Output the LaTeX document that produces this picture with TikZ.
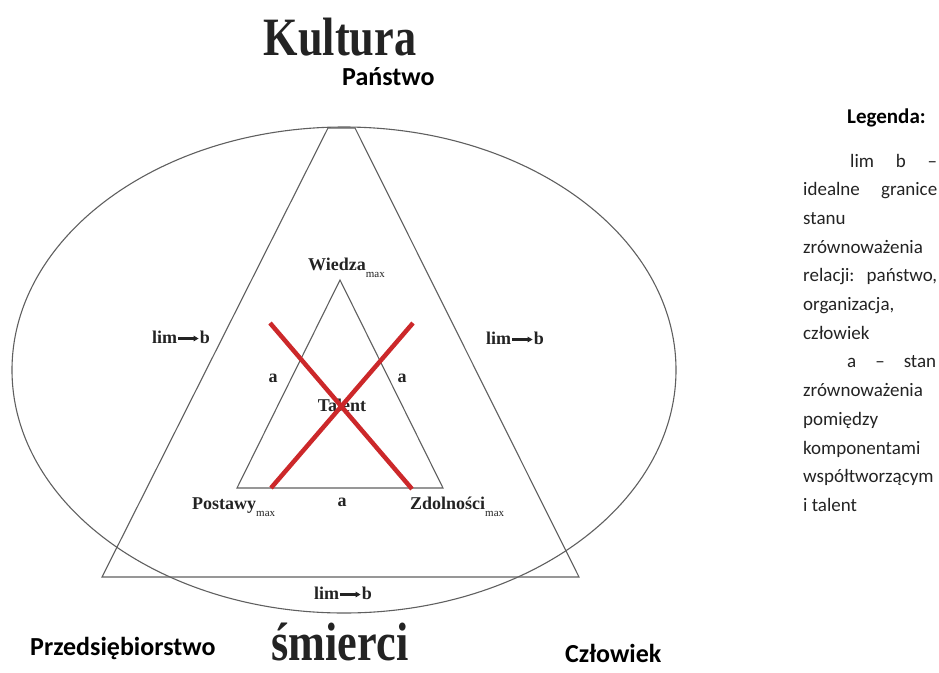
\documentclass[tikz,border=0pt]{standalone}
\usepackage{fontspec}
\usepackage{graphicx}
\setmainfont{Liberation Serif}
\newfontfamily\calfont{Carlito}
\usetikzlibrary{arrows.meta}
\definecolor{crossred}{RGB}{204,40,42}
\definecolor{linegray}{RGB}{95,95,95}
\definecolor{txtdark}{RGB}{35,35,35}
\newcommand{\mxs}{{\fontsize{11}{11}\mdseries\selectfont\raisebox{-7pt}{max}}}
\newcommand{\limb}[3]{%
  \node[ser, anchor=base west] (#1l) at (#2-29,#3+6) {lim};
  \node[ser, anchor=base east] (#1b) at (#2+29,#3+6) {b};
  \draw[limarrow] ([yshift=4.5pt]#1l.base east) -- ([yshift=4.5pt]#1b.base west);
}
\begin{document}
\begin{tikzpicture}[x=1pt,y=-1pt,
  thinline/.style={draw=linegray, line width=1.1pt},
  redx/.style={draw=crossred, line width=4.5pt},
  ser/.style={font=\fontsize{18}{18}\selectfont\bfseries, text=txtdark, inner sep=0pt},
  big/.style={font=\fontsize{54}{54}\selectfont\bfseries, text=txtdark, inner sep=0pt, anchor=base},
  lab/.style={font=\calfont\fontsize{26}{26}\selectfont\bfseries, text=black, inner sep=0pt},
  leg/.style={font=\calfont\fontsize{19}{19}\selectfont, text=txtdark, inner sep=0pt, anchor=base west},
  limarrow/.style={-{Triangle[length=5pt,width=5.5pt]}, line width=2.2pt, txtdark, shorten <=0.5pt, shorten >=1pt},
]
\useasboundingbox (0,0) rectangle (939,672);

% ellipse
\draw[thinline] (344,370) ellipse [x radius=332pt, y radius=243pt];

% outer triangle
\coordinate (oL) at (102,577);
\coordinate (oT1) at (328,128);
\coordinate (oT2) at (355,128);
\coordinate (oR) at (579,577);
\draw[thinline] (oL) -- (oT1) -- (oT2) -- (oR) -- cycle;

% inner triangle
\coordinate (iL) at (237,488);
\coordinate (iT) at (340,280);
\coordinate (iR) at (443,488);
\draw[thinline] (iL) -- (iT) -- (iR) -- cycle;

% titles
\node[big] (kultura) at (340,55) {\scalebox{0.82}[1]{Kultura}};
\node[big] (smierci) at (340,660) {\scalebox{0.82}[1]{śmierci}};

\node[lab, anchor=base west] (panstwo) at (342,85) {Państwo};
\node[lab, anchor=base west] (przeds) at (30,655) {Przedsiębiorstwo};
\node[lab, anchor=base west] (czlowiek) at (565,662) {Człowiek};

% inner labels
\node[ser, anchor=base west] (wiedza) at (308,270) {Wiedza\mxs};
\node[ser, anchor=base west] (postawy) at (192,509) {Postawy\mxs};
\node[ser, anchor=base west] (zdolnosci) at (410,509) {Zdolności\mxs};
\node[ser, anchor=base] (talent) at (342,411) {Talent};
\node[ser, anchor=base] (aL) at (273,382) {a};
\node[ser, anchor=base] (aR) at (402,382) {a};
\node[ser, anchor=base] (aB) at (342,506) {a};

\limb{limL}{181}{337}
\limb{limR}{515}{338}
\limb{limB}{343}{593}

% red cross
\coordinate (x1a) at (270,323);
\coordinate (x1b) at (412,489);
\coordinate (x2a) at (413,323);
\coordinate (x2b) at (271,488);
\draw[redx] (x1a) -- (x1b);
\draw[redx] (x2a) -- (x2b);

% legend
\node[leg, font=\calfont\fontsize{21}{21}\selectfont\bfseries, text=black] (legtitle) at (847,123) {Legenda:};
\node[leg] (l0) at (850,167) {\hbox to 87pt{lim\hfill b\hfill –}};
\node[leg] (l1) at (803,195.7) {\hbox to 134pt{idealne\hfill granice}};
\node[leg] (l2) at (803,224.4) {stanu};
\node[leg] (l3) at (803,253.1) {zrównoważenia};
\node[leg] (l4) at (803,281.8) {\hbox to 134pt{relacji:\hfill państwo,}};
\node[leg] (l5) at (803,310.5) {organizacja,};
\node[leg] (l6) at (803,339.2) {człowiek};
\node[leg] (l7) at (847,367.9) {\hbox to 89pt{a\hfill –\hfill stan}};
\node[leg] (l8) at (803,396.6) {zrównoważenia};
\node[leg] (l9) at (803,425.3) {pomiędzy};
\node[leg] (l10) at (803,454) {komponentami};
\node[leg] (l11) at (803,482.7) {współtworzącym};
\node[leg] (l12) at (803,511.4) {i talent};
\end{tikzpicture}
\end{document}
